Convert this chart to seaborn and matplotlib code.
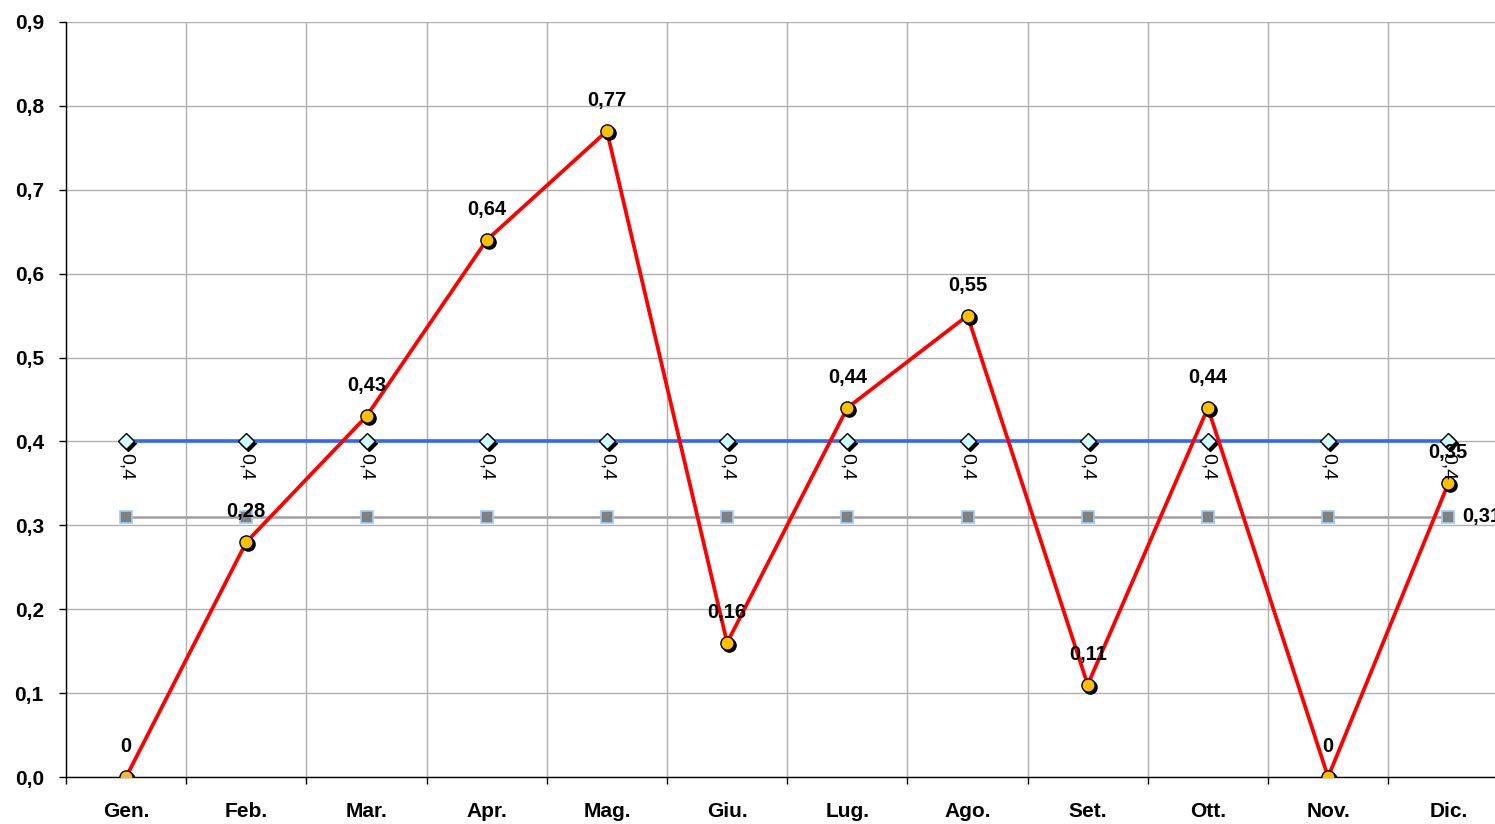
import matplotlib
matplotlib.use("Agg")
import matplotlib.pyplot as plt
import matplotlib.transforms as mtransforms
import seaborn as sns
import pandas as pd
import numpy as np

months = ["Gen.", "Feb.", "Mar.", "Apr.", "Mag.", "Giu.", "Lug.", "Ago.", "Set.", "Ott.", "Nov.", "Dic."]
monthly = [0, 0.28, 0.43, 0.64, 0.77, 0.16, 0.44, 0.55, 0.11, 0.44, 0, 0.35]
target = [0.4] * 12
average = [0.31] * 12
y_ticks = [0.0, 0.1, 0.2, 0.3, 0.4, 0.5, 0.6, 0.7, 0.8, 0.9]

sns.set_theme(style="white")
plt.rcParams["font.family"] = ["Liberation Sans", "DejaVu Sans"]
plt.rcParams["text.color"] = "black"
plt.rcParams["xtick.color"] = "black"
plt.rcParams["ytick.color"] = "black"
plt.rcParams["xtick.labelcolor"] = "black"
plt.rcParams["ytick.labelcolor"] = "black"

W, H, DPI = 1495, 824, 100
fig = plt.figure(figsize=(W / DPI, H / DPI), dpi=DPI)
ax_left, ax_right, ax_top, ax_bot = 66, 1508.4, 22, 777
ax = fig.add_axes([ax_left / W, (H - ax_bot) / H, (ax_right - ax_left) / W, (ax_bot - ax_top) / H])
ax.set_facecolor("white")

x = np.arange(len(months))
df = pd.DataFrame({"x": x, "monthly": monthly, "target": target, "average": average})

def shadow(ax, dx=2, dy=-2):
    return mtransforms.offset_copy(ax.transData, fig=fig, x=dx, y=dy, units="dots")

# gray average line
sns.lineplot(data=df, x="x", y="average", ax=ax, color="#A0A0A0", linewidth=1.8,
             marker="s", markersize=8.5, markerfacecolor="#808080",
             markeredgecolor="#99CCFF", markeredgewidth=1.2, zorder=3)

# blue target line
ax.plot(x, target, linestyle="none", marker="D", markersize=8, color="black", transform=shadow(ax), zorder=4)
sns.lineplot(data=df, x="x", y="target", ax=ax, color="#3366FF", linewidth=2.6,
             marker="D", markersize=8, markerfacecolor="#CCFFFF",
             markeredgecolor="black", markeredgewidth=1.0, zorder=5)

# red monthly line
sns.lineplot(data=df, x="x", y="monthly", ax=ax, color="#FF0000", linewidth=2.7, zorder=6)
ax.plot(x, monthly, linestyle="none", marker="o", markersize=9.5, color="black", transform=shadow(ax), zorder=7)
ax.plot(x, monthly, linestyle="none", marker="o", markersize=9.5, markerfacecolor="#FFC000",
        markeredgecolor="black", markeredgewidth=1.0, zorder=8)
ax.plot([0], [0], linestyle="none", marker="x", markersize=5, color="#FF99CC", zorder=9)

# labels
for xi, v in zip(x, monthly):
    ax.annotate(f"{v:g}".replace(".", ","), (xi, v), xytext=(0, 22), textcoords="offset points",
                ha="center", va="center", fontsize=14.5, fontweight="bold", color="black",
                zorder=10, annotation_clip=False)
for xi, v in zip(x, target):
    ax.annotate(f"{v:g}".replace(".", ","), (xi, v), xytext=(0, -8), textcoords="offset points",
                ha="center", va="top", fontsize=14, rotation=270, color="black",
                zorder=10, annotation_clip=False)
ax.annotate(f"{average[-1]:g}".replace(".", ","), (x[-1], average[-1]), xytext=(10, 0),
            textcoords="offset points", ha="left", va="center", fontsize=14.5, fontweight="bold",
            color="black", zorder=10, annotation_clip=False)

# axes
ax.set_xlim(-0.5, len(months) - 0.5)
ax.set_ylim(0, 0.9)
ax.set_yticks(y_ticks)
ax.set_yticklabels([f"{t:.1f}".replace(".", ",") for t in y_ticks], fontsize=15, fontweight="bold")
ax.set_xticks(np.arange(-0.5, len(months)), labels=[""] * (len(months) + 1))
ax.set_xticks(x, minor=True)
ax.set_xticklabels(months, minor=True, fontsize=15, fontweight="bold")
ax.tick_params(axis="x", which="major", direction="out", length=5, width=1, color="black", bottom=True)
ax.tick_params(axis="x", which="minor", length=0, pad=18)
ax.tick_params(axis="y", direction="out", length=5, width=1, color="black", left=True, pad=11)
ax.grid(True, which="major", color="#B0B0B0", linewidth=1)
ax.set_axisbelow(True)
ax.set_xlabel("")
ax.set_ylabel("")
for s in ["top", "right"]:
    ax.spines[s].set_visible(False)
for s in ["left", "bottom"]:
    ax.spines[s].set_color("black")
    ax.spines[s].set_linewidth(1)
if ax.get_legend():
    ax.get_legend().remove()

fig.savefig("out.png", dpi=DPI)
